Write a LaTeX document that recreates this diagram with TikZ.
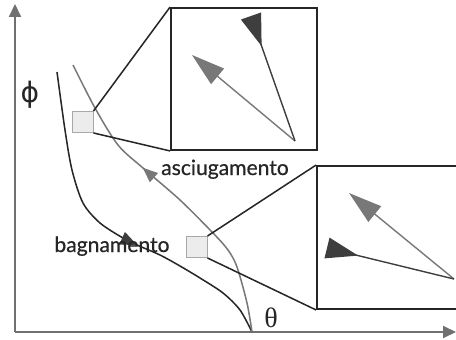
\documentclass[tikz,border=0pt]{standalone}
\usepackage{fontspec}
\usepackage{xcolor}
\usepackage{tikz}
\usetikzlibrary{arrows.meta, positioning, decorations.markings}
\newfontfamily\labelfont[FakeBold=0.6]{Lato}
\newfontfamily\greekfont{DejaVu Sans}
\newfontfamily\thetafont{Liberation Serif}
\definecolor{AxisGrey}{RGB}{112, 112, 112}
\definecolor{CurveDark}{RGB}{38, 38, 38}
\definecolor{CurveGrey}{RGB}{120, 120, 120}
\definecolor{HeadDark}{RGB}{62, 62, 62}
\definecolor{SpotFill}{RGB}{236, 236, 236}
\definecolor{SpotEdge}{RGB}{168, 168, 168}

\begin{document}
\begin{tikzpicture}[x=0.03cm, y=-0.03cm,
    axis/.style={draw=AxisGrey, line width=1.7pt, -{Triangle[length=0.39cm, width=0.36cm]}},
    wetcurve/.style={draw=CurveDark, line width=1.3pt, postaction={decorate},
      decoration={markings, mark=at position 0.58 with {\arrow[HeadDark]{Triangle[length=0.5cm, width=0.4cm]}}}},
    drycurve/.style={draw=CurveGrey, line width=1.3pt, postaction={decorate},
      decoration={markings, mark=at position 0.62 with {\arrow[CurveGrey]{Triangle[length=0.45cm, width=0.36cm]}}}},
    spot/.style={draw=SpotEdge, fill=SpotFill, line width=0.8pt, minimum width=0.63cm, minimum height=0.63cm, inner sep=0pt},
    zoombox/.style={draw=CurveDark, line width=1.6pt, inner sep=0pt},
    lens/.style={draw=CurveDark, line width=1.3pt},
    greyvec/.style={draw=CurveGrey, line width=1.2pt, -{Triangle[length=1cm, width=0.6cm]}},
    darkvec/.style={draw=HeadDark, line width=1.2pt, -{Triangle[reversed, length=0.96cm, width=0.63cm]}},
    curvelabel/.style={font=\labelfont\fontsize{18}{21}\selectfont, text=CurveDark, inner sep=0pt}]
  \useasboundingbox (0,0) rectangle (456,339);
  \clip (0,0) rectangle (456,339);

  % axes
  \coordinate (origin) at (15,332);
  \coordinate (phiend) at (15,4);
  \coordinate (thetaend) at (456,332);
  \draw[axis] (origin) -- (phiend);
  \draw[axis] (origin) -- (thetaend);
  \node[text=CurveDark, inner sep=0pt] (philabel) at (30,95) {\greekfont\fontsize{24}{26}\selectfont ϕ};
  \node[text=CurveDark, inner sep=0pt] (thetalabel) at (271,318) {\thetafont\fontsize{24}{26}\selectfont θ};

  % wetting and drying curves
  \draw[wetcurve] plot[smooth] coordinates {(57,72) (65,130) (72,170) (83,203) (100,223) (123,238) (137,245) (160,255) (180,266) (200,278) (223,293) (240,310) (252,332)};
  \draw[drycurve] plot[smooth] coordinates {(252,332) (247,303) (237,267) (228,250) (213,233) (180,200) (143,168) (118,145) (95,108) (73,65)};
  \node[curvelabel, anchor=base] (drylabel) at (225,175) {asciugamento};
  \node[curvelabel, anchor=base] (wetlabel) at (112,252) {bagnamento};

  % sampled spots and magnified boxes
  \node[spot] (spotdry) at (82.5,122) {};
  \node[spot] (spotwet) at (196.5,247) {};
  \node[zoombox, minimum width=4.38cm, minimum height=4.26cm] (boxdry) at (244,79) {};
  \node[zoombox, minimum width=4.59cm, minimum height=4.29cm] (boxwet) at (393.5,237.5) {};
  \draw[lens] (spotdry.north east) -- (boxdry.north west);
  \draw[lens] (spotdry.south east) -- (boxdry.south west);
  \draw[lens] (spotwet.north east) -- (boxwet.north west);
  \draw[lens] (spotwet.south east) -- (boxwet.south west);

  % vectors inside the boxes
  \coordinate (dryfoot) at (295,141);
  \coordinate (drygrey) at (192,55);
  \coordinate (drydark) at (251,16);
  \draw[greyvec] (dryfoot) -- (drygrey);
  \draw[darkvec] (dryfoot) -- (drydark);
  \coordinate (wetfoot) at (454,279);
  \coordinate (wetgrey) at (349,193);
  \coordinate (wetdark) at (327,248);
  \draw[greyvec] (wetfoot) -- (wetgrey);
  \draw[darkvec] (wetfoot) -- (wetdark);
\end{tikzpicture}
\end{document}
